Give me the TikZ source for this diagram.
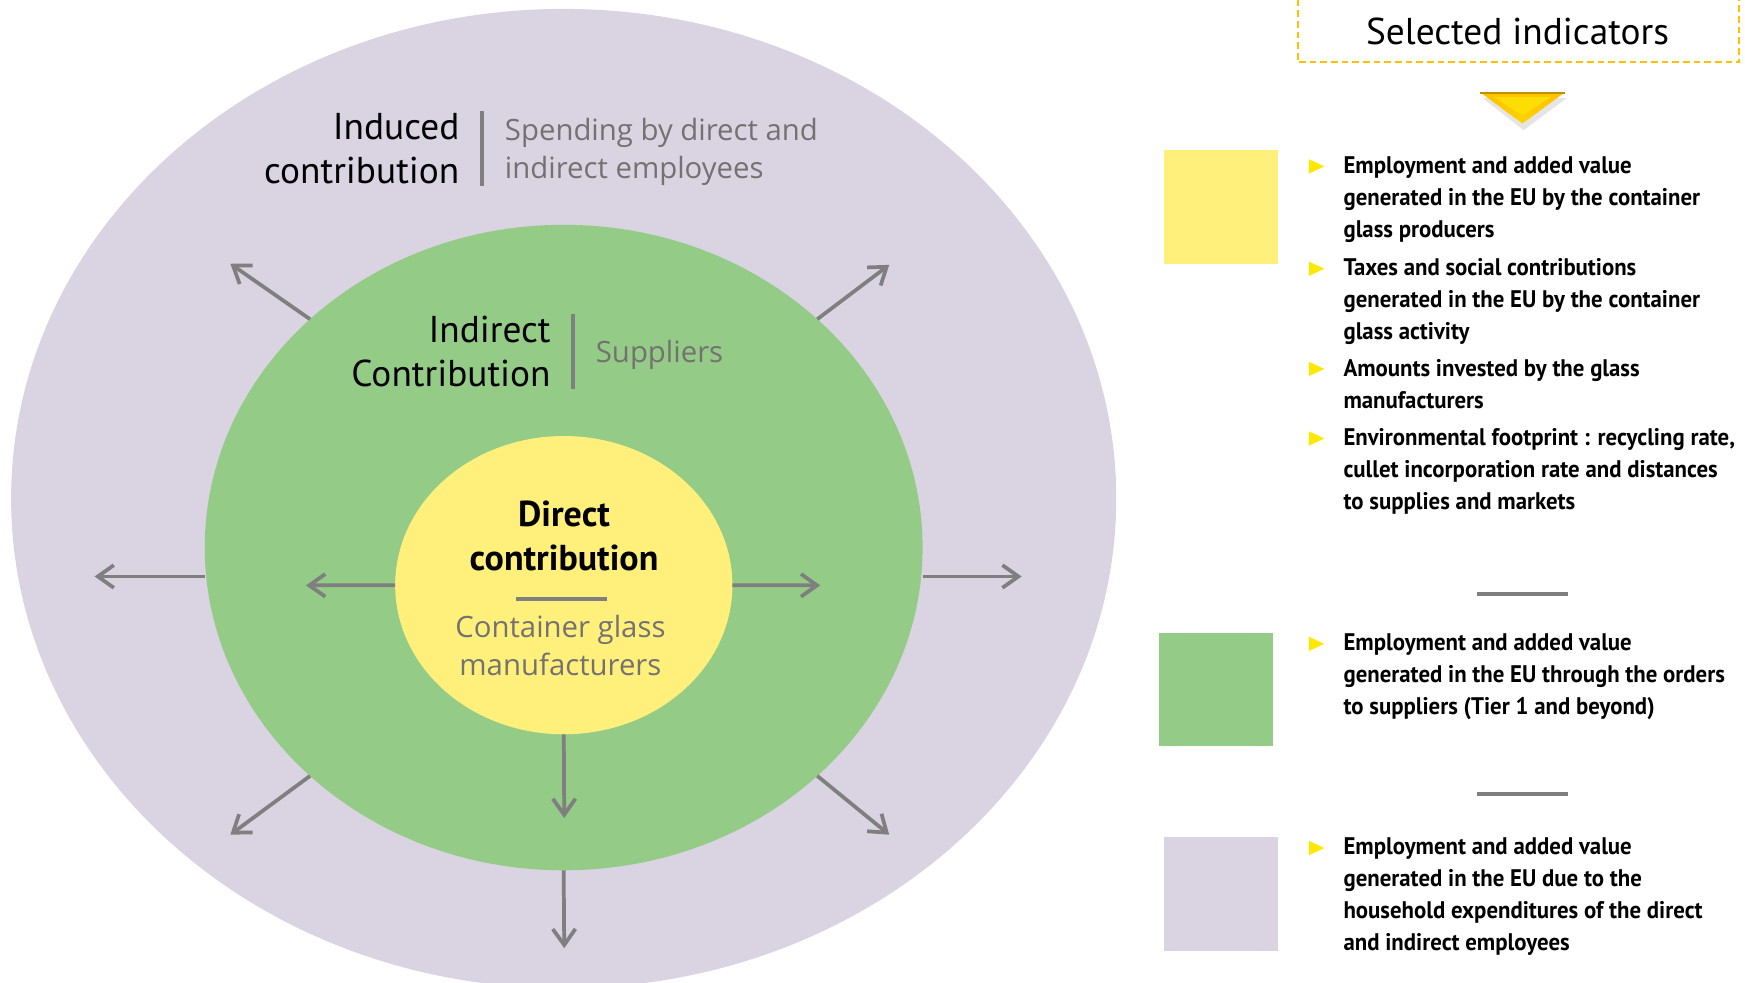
\documentclass[tikz,border=0pt]{standalone}
\usepackage{fontspec}
\setmainfont{PT Sans}
\newfontfamily\greyfont{Open Sans}
\newfontfamily\listfont[FakeStretch=0.95]{PT Sans}
\usetikzlibrary{shapes.geometric,arrows.meta}
\definecolor{inducedfill}{HTML}{D9D3E2}
\definecolor{indirectfill}{HTML}{93CB87}
\definecolor{directfill}{HTML}{FFF07C}
\definecolor{flowgrey}{HTML}{7F7F7F}
\definecolor{textgrey}{HTML}{767171}
\definecolor{boxgold}{HTML}{FFC000}
\definecolor{bulletyellow}{HTML}{FFE800}
\newdimen\px \px=0.8347pt
\tikzset{
  ring/.style={ellipse, inner sep=0pt, outer sep=0pt},
  flow/.style={draw=flowgrey, line width=2.8pt, -{Straight Barb[length=12pt,width=17pt]}},
  rule/.style={draw=flowgrey, line width=2.6pt},
  level/.style={font=\fontsize{28}{33}\selectfont, inner sep=0pt},
  core/.style={font=\bfseries\fontsize{27}{33}\selectfont, inner sep=0pt, align=center, anchor=base},
  who/.style={font=\greyfont\fontsize{22}{28.5}\selectfont, text=textgrey, inner sep=0pt},
  item/.style={font=\listfont\bfseries\fontsize{18}{24}\selectfont, align=left, inner sep=0pt, anchor=base west},
  swatch/.style={minimum width=102\px, minimum height=102\px, inner sep=0pt, anchor=north west}
}
\begin{document}
\begin{tikzpicture}[x=0.8347pt, y=-0.8347pt]
  \useasboundingbox (0,0) rectangle (1568,883);
  \node[ring, fill=inducedfill, minimum width=993\px, minimum height=880\px] (induced) at (506.5,448) {};
  \node[ring, fill=indirectfill, minimum width=645\px, minimum height=580\px] (indirect) at (506.5,492) {};
  \node[ring, fill=directfill, minimum width=303\px, minimum height=268\px] (direct) at (506.6,525.8) {};

  \coordinate (dw) at (275,526);
  \coordinate (de) at (737,526);
  \coordinate (ds) at (507,735);
  \coordinate (iw) at (85,518);
  \coordinate (ie) at (918,518);
  \coordinate (is) at (507,852);
  \coordinate (inw) at (207,237);
  \coordinate (ine) at (799,238);
  \coordinate (isw) at (207,750);
  \coordinate (ise) at (799,750);
  \begin{scope}[flow]
    \draw (direct.west) -- (dw);
    \draw (direct.east) -- (de);
    \draw (direct.south) -- (ds);
    \draw (iw -| indirect.west) -- (iw);
    \draw (ie -| indirect.east) -- (ie);
    \draw (indirect.south) -- (is);
    \draw (indirect.138) -- (inw);
    \draw (indirect.42) -- (ine);
    \draw (indirect.222) -- (isw);
    \draw (indirect.318) -- (ise);
  \end{scope}

  \node[level, anchor=base east, align=right] (inducedname) at (413,164.7) {Induced\\contribution};
  \draw[rule] (433,99.7) -- (433,166.8);
  \node[who, anchor=base west, align=left] (inducedwho) at (453.5,160.2) {Spending by direct and\\indirect employees};
  \node[level, anchor=base east, align=right] (indirectname) at (495,347.4) {Indirect\\Contribution};
  \draw[rule] (515,282.4) -- (515,349.8);
  \node[who, anchor=base west] (indirectwho) at (535.2,325.9) {Suppliers};
  \node[core] (directname) at (506.8,512.2) {Direct\\contribution};
  \draw[rule, line width=3pt] (463.6,538.5) -- (545.1,538.5);
  \node[who, anchor=base, align=center] (directwho) at (503.6,607.4) {Container glass\\manufacturers};

  \draw[boxgold, line width=1.6pt, dash pattern=on 5pt off 3pt] (1166,-10) rectangle (1562.6,56);
  \node[font=\fontsize{28}{33}\selectfont, anchor=base, inner sep=0pt] (indicators) at (1363.6,39.8) {Selected indicators};
  \fill[black!10] (1332,88) -- (1408,88) -- (1369,117) -- cycle;
  \shade[top color=boxgold, bottom color=boxgold!70!yellow] (1330,83) -- (1406,83) -- (1368,111) -- cycle;
  \fill[yellow!60!boxgold] (1342,87) -- (1394,87) -- (1368,104) -- cycle;
  \draw[color=boxgold!75!black, line width=1.2pt] (1330,83.5) -- (1406,83.5);

  \node[swatch, fill=directfill] (directkey) at (1046,134.8) {};
  \node[swatch, fill=indirectfill] (indirectkey) at (1041.5,568.5) {};
  \node[swatch, fill=inducedfill] (inducedkey) at (1046,752) {};

  \fill[bulletyellow] (1176,156) -- ++(0,-13) -- ++(14,6.5) -- cycle;
  \node[item] (jobs) at (1207,213.4) {Employment and added value\\generated in the EU by the container\\glass producers};
  \fill[bulletyellow] (1176,248) -- ++(0,-13) -- ++(14,6.5) -- cycle;
  \node[item] (taxes) at (1207,305.3) {Taxes and social contributions\\generated in the EU by the container\\glass activity};
  \fill[bulletyellow] (1176,338) -- ++(0,-13) -- ++(14,6.5) -- cycle;
  \node[item] (invest) at (1207,366.8) {Amounts invested by the glass\\manufacturers};
  \fill[bulletyellow] (1176,400.5) -- ++(0,-13) -- ++(14,6.5) -- cycle;
  \node[item] (footprint) at (1207,457.5) {Environmental footprint : recycling rate,\\cullet incorporation rate and distances\\to supplies and markets};
  \draw[flowgrey, line width=3pt] (1327,533.7) -- (1409,533.7);
  \fill[bulletyellow] (1176,585) -- ++(0,-13) -- ++(14,6.5) -- cycle;
  \node[item] (orders) at (1207,642.2) {Employment and added value\\generated in the EU through the orders\\to suppliers (Tier 1 and beyond)};
  \draw[flowgrey, line width=3pt] (1327,713.4) -- (1409,713.4);
  \fill[bulletyellow] (1176,768.5) -- ++(0,-13) -- ++(14,6.5) -- cycle;
  \node[item] (household) at (1207,854.2) {Employment and added value\\generated in the EU due to the\\household expenditures of the direct\\and indirect employees};
\end{tikzpicture}
\end{document}
